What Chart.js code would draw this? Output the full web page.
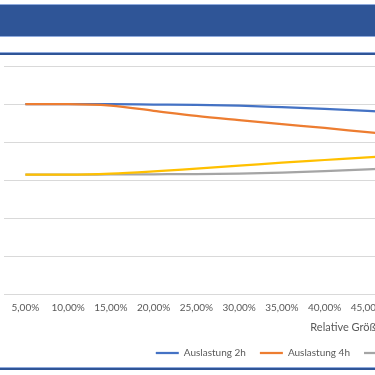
<!DOCTYPE html>
<html>
<head>
<meta charset="utf-8">
<script src="https://cdn.jsdelivr.net/npm/chart.js@4.4.0/dist/chart.umd.min.js"></script>
<style>
  html, body { margin: 0; padding: 0; width: 375px; height: 375px; overflow: hidden; background: #fff; }
  .banner { position: absolute; left: 0; top: 4px; width: 375px; height: 31px; background: #2F5597;
            border-top: 1px solid #8FAADC; border-bottom: 1px solid #8FAADC; }
  .rule { position: absolute; left: 0; width: 375px; height: 2px; background: #2F5597; border-top: 1px solid #8FAADC; }
  #wrap { position: absolute; left: 0; top: 56px; width: 700px; height: 314px; }
</style>
</head>
<body>
<div class="banner"></div>
<div class="rule" style="top:52px"></div>
<div id="wrap"><canvas id="lineChart"></canvas></div>
<div class="rule" style="top:367px"></div>
<script>
// x categories (relative size)
const categories = ["5,00%", "10,00%", "15,00%", "20,00%", "25,00%", "30,00%", "35,00%", "40,00%",
    "45,00%", "50,00%", "55,00%", "60,00%", "65,00%", "70,00%", "75,00%", "80,00%"];
const seriesNames = ["Auslastung 2h", "Auslastung 4h", "Autarkie 2h", "Autarkie 4h"];
const auslastung2h = [100, 100, 100, 99.8, 99.6, 99.2, 98.4, 97.5, 96.5, 95.3];
const auslastung4h = [100, 100, 99.2, 96.5, 93.8, 91.6, 89.5, 87.5, 85.3, 83.2];
const autarkie2h = [63.0, 63.0, 63.1, 63.2, 63.3, 63.6, 64.1, 64.9, 65.8, 66.8];
const autarkie4h = [63.0, 63.0, 63.5, 64.7, 66.2, 67.7, 69.3, 70.7, 72.1, 73.4];
const colors = ["#4472C4", "#ED7D31", "#A5A5A5", "#FFC000"];

Chart.defaults.font.family = "Lato, 'Noto Sans', sans-serif";
Chart.defaults.color = "#595959";

const values = [auslastung2h, auslastung4h, autarkie2h, autarkie4h];

new Chart(document.getElementById("lineChart"), {
    type: 'line',
    data: {
      labels: categories,
      datasets: values.map((v, i) => ({
        label: seriesNames[i],
        data: v,
        borderColor: colors[i],
        backgroundColor: colors[i],
        borderWidth: 2.25,
        pointRadius: 0,
        cubicInterpolationMode: 'monotone',
        order: 4 - i // later series drawn on top, like Excel
      }))
    },
    options: {
      responsive: true,
      maintainAspectRatio: false,
      animation: false,
      layout: { padding: { left: 4, right: 12, top: 10, bottom: 2 } },
      plugins: {
        tooltip: { enabled: false },
        legend: {
          position: 'bottom',
          labels: {
            usePointStyle: true,
            pointStyle: 'line',
            pointStyleWidth: 23,
            padding: 14,
            font: { size: 10 },
            sort: (a, b) => a.datasetIndex - b.datasetIndex
          }
        }
      },
      scales: {
        x: {
          offset: true,
          grid: { display: false, drawTicks: false },
          border: { display: false },
          ticks: { padding: 7, font: { size: 10 }, maxRotation: 0, autoSkip: false },
          title: { display: true, text: 'Relative Größe', font: { size: 11 }, padding: { top: 0, bottom: 0 } }
        },
        y: {
          min: 0,
          max: 120,
          ticks: { display: false, stepSize: 20 },
          grid: { color: '#D9D9D9', drawTicks: false },
          border: { display: false }
        }
      }
    }
  });
</script>
</body>
</html>
